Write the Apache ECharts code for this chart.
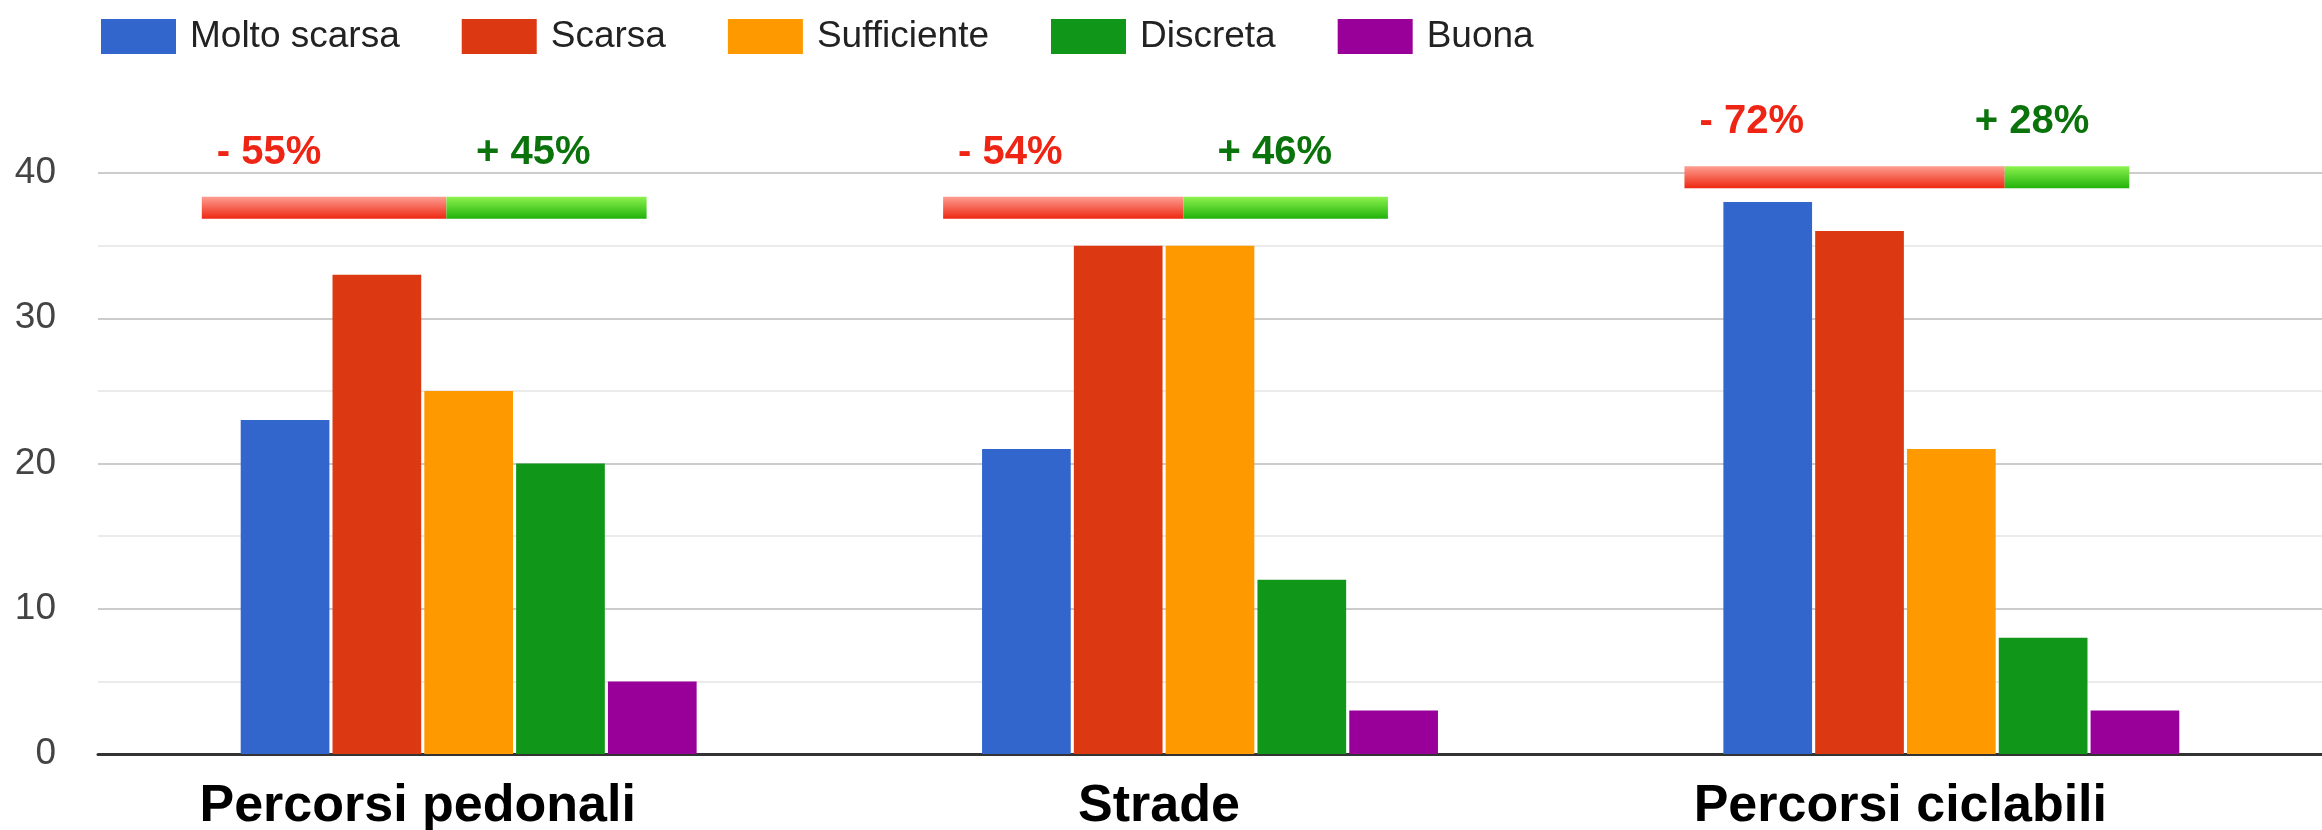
<!DOCTYPE html>
<html><head><meta charset="utf-8">
<script src="https://cdn.jsdelivr.net/npm/echarts@6/dist/echarts.min.js"></script>
<style>html,body{margin:0;padding:0;background:#fff}#c{width:2322px;height:830px}</style>
</head><body><div id="c"></div>
<script>
const categories = ['Percorsi pedonali', 'Strade', 'Percorsi ciclabili'];
const seriesNames = ['Molto scarsa', 'Scarsa', 'Sufficiente', 'Discreta', 'Buona'];
const moltoScarsa = [23, 21, 38];
const scarsa = [33, 35, 36];
const sufficiente = [25, 35, 21];
const discreta = [20, 12, 8];
const buona = [5, 3, 3];
const negativePct = [55, 54, 72];
const positivePct = [45, 46, 28];
const yTicks = [0, 10, 20, 30, 40];

const values = [moltoScarsa, scarsa, sufficiente, discreta, buona];
const colors = ['#3366cc', '#dc3912', '#ff9900', '#109618', '#990099'];
const FONT = '"Liberation Sans", Arial, Helvetica, sans-serif';

const annData = categories.map((c, i) => {
  const mx = Math.max(...values.map(v => v[i]));
  return [i, Math.max(37.6, mx + 1.7), negativePct[i], positivePct[i]];
});

const redGrad = new echarts.graphic.LinearGradient(0, 0, 0, 1, [
  {offset: 0, color: '#fd9d90'}, {offset: 1, color: '#ee2711'}]);
const greenGrad = new echarts.graphic.LinearGradient(0, 0, 0, 1, [
  {offset: 0, color: '#8cf24e'}, {offset: 1, color: '#20b10a'}]);

const chart = echarts.init(document.getElementById('c'), null, {renderer: 'canvas'});
const series = seriesNames.map((n, k) => ({
  name: n, type: 'bar', data: values[k],
  itemStyle: {color: colors[k]},
  barGap: '3.5%', barCategoryGap: '38.5%'
}));
series.push({
  type: 'custom', name: 'ann', data: annData, clip: false, silent: true,
  encode: {x: 0, y: 1}, z: 10,
  renderItem: function (params, api) {
    const i = api.value(0), level = api.value(1);
    const neg = api.value(2), pos = api.value(3);
    const c = api.coord([i, level]);
    const bw = api.size([1, 0])[0];
    const x0 = c[0] - 0.36 * bw;
    const w = 0.6 * bw;
    const h = 22;
    const wr = w * neg / (neg + pos);
    const gx = x0 + Math.max(0.37 * bw, wr - 30);
    return {type: 'group', children: [
      {type: 'rect', shape: {x: x0, y: c[1] - h / 2, width: wr, height: h}, style: {fill: redGrad}},
      {type: 'rect', shape: {x: x0 + wr, y: c[1] - h / 2, width: w - wr, height: h}, style: {fill: greenGrad}},
      {type: 'text', x: x0 + 15, y: c[1] - 55, style: {text: '- ' + neg + '%', fill: '#ee2414',
        fontSize: 40, fontWeight: 'bold', fontFamily: FONT, verticalAlign: 'middle', align: 'left'}},
      {type: 'text', x: gx, y: c[1] - 55, style: {text: '+ ' + pos + '%', fill: '#0b730b',
        fontSize: 40, fontWeight: 'bold', fontFamily: FONT, verticalAlign: 'middle', align: 'left'}}
    ]};
  }
});

chart.setOption({
  animation: false,
  backgroundColor: '#ffffff',
  textStyle: {fontFamily: FONT},
  legend: {
    data: seriesNames, left: 96, top: 13, icon: 'rect',
    itemWidth: 75, itemHeight: 35, itemGap: 62,
    textStyle: {fontSize: 37, color: '#222', fontFamily: FONT, padding: [0, 0, 0, 9]}
  },
  grid: {left: 98, right: 0, top: 173, bottom: 76, containLabel: false, outerBoundsMode: 'none'},
  xAxis: {
    type: 'category', data: categories,
    axisLine: {show: true, lineStyle: {color: '#333', width: 3}},
    axisTick: {show: false},
    axisLabel: {fontSize: 52, fontWeight: 'bold', color: '#000', margin: 27,
      fontFamily: FONT, padding: [0, 102, 0, 0]}
  },
  yAxis: {
    type: 'value', min: yTicks[0], max: yTicks[yTicks.length - 1], interval: 10,
    axisLine: {show: false}, axisTick: {show: false},
    axisLabel: {fontSize: 37, color: '#444', margin: 42, fontFamily: FONT},
    splitLine: {show: true, lineStyle: {color: '#cccccc', width: 2}},
    minorTick: {show: false, splitNumber: 2},
    minorSplitLine: {show: true, lineStyle: {color: '#ebebeb', width: 2}}
  },
  series: series
});
</script></body></html>
